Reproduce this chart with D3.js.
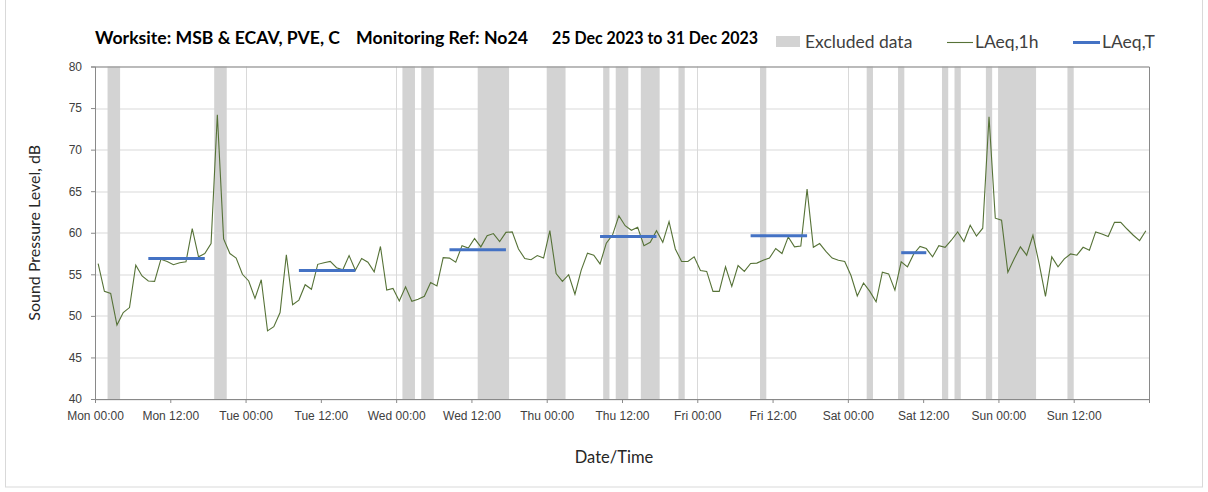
<!DOCTYPE html>
<html>
<head>
<meta charset="utf-8">
<script src="https://cdn.jsdelivr.net/npm/d3@7"></script>
<style>
  body { margin: 0; background: #fff; }
  svg { font-family: Lato, "Open Sans", sans-serif; }
  .axis path, .axis line { stroke: #898989; }
  .axis text { fill: #404040; font-size: 12px; }
</style>
</head>
<body>
<div class="chart"></div>
<script>
// hourly LAeq,1h values, Mon 00:00 .. Sun 23:00
let laeq1h = [
  56.3, 52.95, 52.7, 48.9, 50.4, 51.0, 56.1, 54.8, 54.2, 54.15, 56.8, 56.55,
  56.15, 56.4, 56.5, 60.5, 57.1, 57.5, 58.7, 74.2, 59.25, 57.5, 56.95, 55.0,
  54.2, 52.1, 54.35, 48.2, 48.7, 50.4, 57.35, 51.35, 51.9, 53.75, 53.2, 56.2,
  56.4, 56.55, 55.8, 55.55, 57.25, 55.5, 56.9, 56.45, 55.3, 58.35, 53.1, 53.3,
  51.8, 53.5, 51.75, 52.0, 52.35, 54.0, 53.6, 57.0, 56.95, 56.45, 58.45, 58.15,
  59.3, 58.3, 59.65, 59.9, 58.95, 60.05, 60.1, 58.05, 56.9, 56.75, 57.25, 56.95,
  60.25, 55.1, 54.15, 54.95, 52.6, 55.5, 57.55, 57.3, 56.25, 58.75, 59.75, 62.05,
  60.85, 60.3, 60.65, 58.45, 58.85, 60.25, 58.85, 61.35, 58.05, 56.55, 56.55, 57.1,
  55.45, 55.35, 52.95, 52.95, 55.9, 53.55, 56.05, 55.35, 56.3, 56.35, 56.7, 56.95,
  58.1, 57.5, 59.5, 58.3, 58.4, 65.25, 58.25, 58.7, 57.75, 56.95, 56.7, 56.55,
  54.85, 52.4, 53.95, 52.95, 51.7, 55.25, 55.05, 53.1, 56.5, 55.9, 57.45, 58.35,
  58.1, 57.1, 58.45, 58.25, 59.1, 60.1, 58.95, 60.9, 59.6, 60.55, 73.95, 61.75,
  61.5, 55.25, 56.85, 58.3, 57.3, 59.7, 56.25, 52.35, 57.1, 55.9, 56.85, 57.45,
  57.3, 58.25, 57.9, 60.1, 59.85, 59.55, 61.25, 61.25, 60.45, 59.7, 59.05, 60.25
];

// LAeq,T daytime periods (first hour, last hour, level)
let laeqTStart = [8, 32, 56, 80, 104, 128];
let laeqTEnd = [17, 41, 65, 89, 113, 132];
let laeqTValues = [56.9, 55.45, 57.95, 59.55, 59.65, 57.6];

// excluded hours (start hour, end hour)
let excludedStart = [2, 19, 49, 52, 61, 72, 81, 83, 87, 93, 106, 123, 128, 135, 137, 142, 144, 155];
let excludedEnd = [4, 21, 51, 54, 66, 75, 82, 85, 90, 94, 107, 124, 129, 136, 138, 143, 150, 156];

let tickLabels = ['Mon 00:00', 'Mon 12:00', 'Tue 00:00', 'Tue 12:00', 'Wed 00:00', 'Wed 12:00',
  'Thu 00:00', 'Thu 12:00', 'Fri 00:00', 'Fri 12:00', 'Sat 00:00', 'Sat 12:00', 'Sun 00:00', 'Sun 12:00'];
let yTicks = [40, 45, 50, 55, 60, 65, 70, 75, 80];

let margin = { top: 66.5, right: 59, bottom: 93, left: 95 },
    width = 1208 - margin.left - margin.right,
    height = 492 - margin.top - margin.bottom;

let svg = d3.select('.chart').append('svg')
    .attr('width', 1208)
    .attr('height', 492);

// outer chart border
svg.append('rect')
    .attr('x', 5.5).attr('y', -2)
    .attr('width', 1197).attr('height', 489)
    .style('fill', 'none').style('stroke', '#d9d9d9');

let g = svg.append('g')
    .attr('transform', 'translate(' + margin.left + ',' + margin.top + ')');

let x = d3.scaleLinear().domain([0, 168]).range([0, width]);
let y = d3.scaleLinear().domain([40, 80]).range([height, 0]);

// gridlines
g.selectAll('.hgrid').data(yTicks).enter().append('line')
    .attr('x1', 0).attr('x2', width)
    .attr('y1', d => Math.round(y(d)) + 0.5).attr('y2', d => Math.round(y(d)) + 0.5)
    .style('stroke', '#d9d9d9');
g.selectAll('.vgrid').data(d3.range(24, 168, 24)).enter().append('line')
    .attr('x1', d => Math.round(x(d)) + 0.5).attr('x2', d => Math.round(x(d)) + 0.5)
    .attr('y1', 0).attr('y2', height)
    .style('stroke', '#d9d9d9');

// excluded data bands
g.selectAll('.band').data(excludedStart).enter().append('rect')
    .attr('x', d => x(d))
    .attr('width', (d, i) => x(excludedEnd[i]) - x(d))
    .attr('y', 0)
    .attr('height', height)
    .style('fill', '#d3d3d3');

// LAeq,1h line
let line = d3.line()
    .x((d, i) => x(i + 0.5))
    .y(d => y(d));

g.append('path')
    .datum(laeq1h)
    .attr('d', line)
    .style('fill', 'none')
    .style('stroke', '#567237')
    .style('stroke-width', 1.1);

// LAeq,T
g.selectAll('.laeqT').data(laeqTValues).enter().append('line')
    .attr('x1', (d, i) => x(laeqTStart[i] + 0.5))
    .attr('x2', (d, i) => x(laeqTEnd[i] + 0.5))
    .attr('y1', d => y(d)).attr('y2', d => y(d))
    .style('stroke', '#4472c4')
    .style('stroke-width', 3);

// axes
let xAxis = d3.axisBottom(x)
    .tickValues(d3.range(0, 169, 12))
    .tickSize(4)
    .tickFormat((d, i) => tickLabels[i] || '');
let yAxis = d3.axisLeft(y).tickValues(yTicks).tickSize(4);

g.append('g').attr('class', 'x axis')
    .attr('transform', 'translate(0,' + height + ')')
    .call(xAxis)
    .selectAll('text').attr('dy', '1.15em');

g.append('g').attr('class', 'y axis')
    .call(yAxis)
    .selectAll('text').attr('dx', '-0.5em');

// plot frame top/right
g.append('path')
    .attr('d', 'M0,0.5H' + (width + 0.5) + 'V' + height)
    .style('fill', 'none').style('stroke', '#898989');

// axis titles
svg.append('text')
    .attr('text-anchor', 'middle')
    .attr('transform', 'translate(' + 40 + ',' + (margin.top + height / 2) + ')rotate(-90)')
    .style('font-size', '16px').style('fill', '#262626')
    .text('Sound Pressure Level, dB');

svg.append('text')
    .attr('text-anchor', 'middle')
    .attr('x', 614).attr('y', 463)
    .style('font-size', '16.5px').style('fill', '#262626')
    .text('Date/Time');

// title
let titleParts = ['Worksite: MSB & ECAV, PVE, C', 'Monitoring Ref: No24', '25 Dec 2023 to 31 Dec 2023'];
let titleX = [95, 356, 552];
let titleW = [245, 172, 206];
svg.selectAll('.title').data(titleParts).enter().append('text')
    .attr('x', (d, i) => titleX[i]).attr('y', 44)
    .attr('textLength', (d, i) => titleW[i])
    .attr('lengthAdjust', 'spacingAndGlyphs')
    .style('font-size', '16.5px').style('font-weight', 'bold').style('fill', '#000')
    .text(d => d);

// legend
svg.append('rect')
    .attr('x', 776).attr('y', 36).attr('width', 24).attr('height', 11)
    .style('fill', '#d3d3d3');
svg.append('text').attr('x', 805).attr('y', 47.5)
    .style('font-size', '17.5px').style('fill', '#404040').text('Excluded data');

svg.append('line')
    .attr('x1', 947).attr('x2', 973).attr('y1', 42.5).attr('y2', 42.5)
    .style('stroke', '#567237').style('stroke-width', 1.1);
svg.append('text').attr('x', 975).attr('y', 47.5)
    .style('font-size', '17.5px').style('fill', '#404040').text('LAeq,1h');

svg.append('line')
    .attr('x1', 1073).attr('x2', 1100).attr('y1', 42.5).attr('y2', 42.5)
    .style('stroke', '#4472c4').style('stroke-width', 3);
svg.append('text').attr('x', 1102).attr('y', 47.5)
    .style('font-size', '17.5px').style('fill', '#404040').text('LAeq,T');
</script>
</body>
</html>
